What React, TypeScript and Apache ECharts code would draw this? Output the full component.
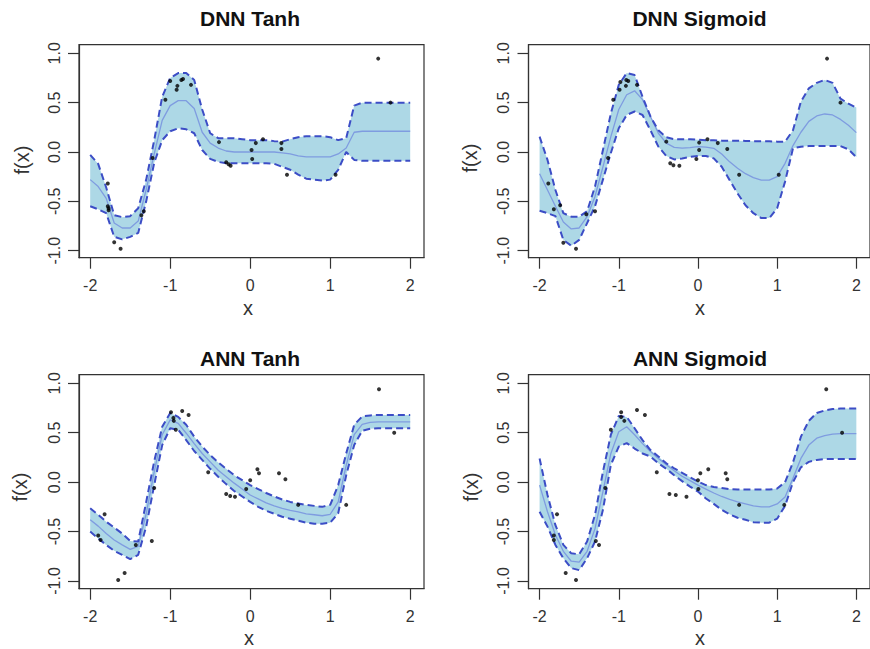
import React, { useEffect, useRef } from "react";
import * as echarts from "echarts";

// common x grid for fitted curves
const XS = [-2, -1.9, -1.8, -1.7, -1.6, -1.5, -1.4, -1.3, -1.2, -1.1, -1.0, -0.9, -0.8, -0.7, -0.6, -0.5, -0.4, -0.3, -0.2, -0.1, 0, 0.1, 0.2, 0.3, 0.4, 0.5, 0.6, 0.7, 0.8, 0.9, 1.0, 1.1, 1.2, 1.3, 1.4, 1.5, 1.6, 1.7, 1.8, 1.9, 2.0];

const X_TICKS = [-2, -1, 0, 1, 2];
const Y_TICKS = [-1, -0.5, 0, 0.5, 1];

const TITLES = ["DNN Tanh", "DNN Sigmoid", "ANN Tanh", "ANN Sigmoid"];

// DNN Tanh
const mean1 = [-0.28, -0.35, -0.47, -0.72, -0.77, -0.77, -0.70, -0.38, -0.02, 0.32, 0.47, 0.52, 0.52, 0.44, 0.20, 0.09, 0.04, 0.01, 0.0, 0.0, 0.0, 0.0, 0.0, 0.0, -0.01, -0.02, -0.04, -0.05, -0.05, -0.05, -0.05, -0.02, 0.04, 0.20, 0.21, 0.21, 0.21, 0.21, 0.21, 0.21, 0.21];
const upper1 = [-0.03, -0.12, -0.36, -0.64, -0.66, -0.65, -0.57, -0.28, 0.12, 0.56, 0.75, 0.80, 0.80, 0.73, 0.43, 0.19, 0.14, 0.14, 0.14, 0.13, 0.12, 0.12, 0.12, 0.11, 0.105, 0.13, 0.15, 0.16, 0.16, 0.16, 0.15, 0.12, 0.14, 0.47, 0.50, 0.50, 0.50, 0.50, 0.50, 0.50, 0.50];
const lower1 = [-0.55, -0.58, -0.62, -0.86, -0.885, -0.86, -0.82, -0.50, -0.11, 0.12, 0.21, 0.24, 0.23, 0.19, 0.02, -0.07, -0.10, -0.115, -0.115, -0.115, -0.115, -0.115, -0.115, -0.12, -0.15, -0.18, -0.23, -0.27, -0.28, -0.29, -0.28, -0.18, 0.0, -0.08, -0.09, -0.09, -0.09, -0.09, -0.09, -0.09, -0.09];
const points1 = [[-1.78, -0.32], [-1.78, -0.55], [-1.77, -0.57], [-1.77, -0.59], [-1.70, -0.915], [-1.62, -0.98], [-1.36, -0.64], [-1.33, -0.60], [-1.22, -0.06], [-1.06, 0.53], [-1.0, 0.72], [-0.92, 0.63], [-0.91, 0.67], [-0.86, 0.73], [-0.84, 0.74], [-0.74, 0.68], [-0.39, 0.10], [-0.30, -0.105], [-0.27, -0.125], [-0.245, -0.14], [0.017, 0.02], [0.025, -0.07], [0.07, 0.09], [0.16, 0.13], [0.39, 0.09], [0.39, 0.03], [0.46, -0.23], [1.067, -0.23], [1.6, 0.946], [1.754, 0.50]];

// DNN Sigmoid
const mean2 = [-0.22, -0.385, -0.55, -0.71, -0.78, -0.77, -0.655, -0.45, -0.15, 0.155, 0.43, 0.58, 0.62, 0.53, 0.36, 0.19, 0.09, 0.047, 0.04, 0.045, 0.054, 0.05, 0.037, -0.02, -0.10, -0.165, -0.22, -0.26, -0.285, -0.285, -0.25, -0.115, 0.065, 0.20, 0.31, 0.365, 0.385, 0.375, 0.33, 0.27, 0.196];
const upper2 = [0.155, -0.08, -0.385, -0.62, -0.655, -0.655, -0.60, -0.35, 0.02, 0.39, 0.68, 0.80, 0.78, 0.56, 0.36, 0.22, 0.15, 0.13, 0.128, 0.128, 0.125, 0.12, 0.118, 0.115, 0.115, 0.115, 0.112, 0.11, 0.11, 0.108, 0.105, 0.105, 0.22, 0.51, 0.645, 0.70, 0.73, 0.70, 0.54, 0.49, 0.45];
const lower2 = [-0.595, -0.62, -0.65, -0.89, -0.95, -0.89, -0.72, -0.55, -0.28, -0.01, 0.24, 0.375, 0.41, 0.375, 0.22, 0.054, -0.04, -0.075, -0.065, -0.05, -0.04, -0.04, -0.065, -0.15, -0.285, -0.42, -0.54, -0.62, -0.67, -0.67, -0.57, -0.30, 0.037, 0.054, 0.06, 0.06, 0.06, 0.06, 0.06, 0.027, -0.054];
const points2 = [[-1.89, -0.32], [-1.82, -0.58], [-1.74, -0.54], [-1.70, -0.92], [-1.54, -0.98], [-1.41, -0.63], [-1.30, -0.60], [-1.135, -0.06], [-1.07, 0.53], [-0.98, 0.71], [-0.99, 0.63], [-0.91, 0.67], [-0.905, 0.73], [-0.88, 0.72], [-0.77, 0.68], [-0.40, 0.105], [-0.35, -0.115], [-0.31, -0.135], [-0.235, -0.14], [-0.02, -0.07], [0.015, 0.095], [0.015, 0.02], [0.12, 0.13], [0.25, 0.09], [0.37, 0.03], [0.52, -0.23], [1.02, -0.23], [1.63, 0.946], [1.80, 0.50]];

// ANN Tanh
const mean3 = [-0.38, -0.445, -0.52, -0.585, -0.635, -0.68, -0.65, -0.32, 0.105, 0.48, 0.63, 0.595, 0.495, 0.39, 0.29, 0.205, 0.12, 0.055, -0.01, -0.07, -0.13, -0.17, -0.21, -0.24, -0.265, -0.285, -0.30, -0.32, -0.33, -0.34, -0.325, -0.20, 0.17, 0.48, 0.585, 0.605, 0.61, 0.61, 0.61, 0.61, 0.61];
const upper3 = [-0.265, -0.33, -0.40, -0.46, -0.52, -0.595, -0.60, -0.20, 0.21, 0.56, 0.70, 0.66, 0.58, 0.46, 0.36, 0.275, 0.20, 0.135, 0.07, 0.02, -0.03, -0.07, -0.11, -0.145, -0.175, -0.20, -0.215, -0.23, -0.24, -0.25, -0.23, -0.03, 0.29, 0.58, 0.665, 0.675, 0.68, 0.68, 0.68, 0.68, 0.68];
const lower3 = [-0.50, -0.57, -0.635, -0.695, -0.735, -0.78, -0.735, -0.45, -0.03, 0.375, 0.545, 0.53, 0.425, 0.315, 0.225, 0.135, 0.055, -0.02, -0.09, -0.145, -0.20, -0.25, -0.29, -0.32, -0.35, -0.37, -0.39, -0.41, -0.42, -0.42, -0.41, -0.315, 0.07, 0.375, 0.52, 0.54, 0.545, 0.545, 0.545, 0.545, 0.545];
const points3 = [[-1.82, -0.325], [-1.9, -0.54], [-1.87, -0.585], [-1.65, -0.99], [-1.57, -0.92], [-1.43, -0.636], [-1.23, -0.595], [-1.2, -0.06], [-0.99, 0.707], [-0.96, 0.65], [-0.955, 0.62], [-0.93, 0.53], [-0.85, 0.72], [-0.77, 0.68], [-0.525, 0.10], [-0.30, -0.12], [-0.25, -0.14], [-0.19, -0.147], [-0.05, -0.07], [0.0, 0.02], [0.09, 0.13], [0.11, 0.09], [0.36, 0.09], [0.44, 0.03], [0.6, -0.23], [1.2, -0.23], [1.61, 0.94], [1.8, 0.50]];

// ANN Sigmoid
const mean4 = [-0.03, -0.30, -0.535, -0.70, -0.80, -0.81, -0.70, -0.47, -0.095, 0.29, 0.51, 0.56, 0.48, 0.39, 0.31, 0.24, 0.175, 0.115, 0.06, 0.015, -0.03, -0.07, -0.11, -0.145, -0.175, -0.20, -0.22, -0.24, -0.25, -0.25, -0.22, -0.15, 0.04, 0.24, 0.375, 0.445, 0.47, 0.485, 0.49, 0.49, 0.49];
const upper4 = [0.24, -0.13, -0.435, -0.635, -0.72, -0.73, -0.60, -0.33, 0.105, 0.48, 0.67, 0.66, 0.545, 0.425, 0.325, 0.26, 0.19, 0.14, 0.095, 0.05, 0.005, -0.03, -0.05, -0.06, -0.07, -0.075, -0.075, -0.075, -0.075, -0.075, -0.065, 0.0, 0.20, 0.46, 0.62, 0.70, 0.725, 0.74, 0.745, 0.745, 0.745];
const lower4 = [-0.30, -0.45, -0.635, -0.77, -0.87, -0.89, -0.77, -0.60, -0.28, 0.175, 0.36, 0.395, 0.34, 0.29, 0.26, 0.19, 0.135, 0.07, 0.01, -0.045, -0.095, -0.165, -0.22, -0.28, -0.325, -0.36, -0.38, -0.405, -0.41, -0.41, -0.37, -0.24, 0.0, 0.15, 0.205, 0.225, 0.235, 0.235, 0.235, 0.235, 0.235];
const points4 = [[-1.78, -0.325], [-1.82, -0.54], [-1.82, -0.585], [-1.67, -0.92], [-1.54, -0.99], [-1.29, -0.595], [-1.25, -0.636], [-1.17, -0.06], [-1.10, 0.53], [-0.97, 0.707], [-0.97, 0.66], [-0.93, 0.62], [-0.77, 0.73], [-0.67, 0.68], [-0.52, 0.10], [-0.36, -0.12], [-0.28, -0.13], [-0.145, -0.147], [0.0, 0.02], [0.005, -0.07], [0.03, 0.09], [0.13, 0.13], [0.35, 0.09], [0.37, 0.03], [0.52, -0.23], [1.09, -0.23], [1.62, 0.94], [1.82, 0.50]];

const MEANS = [mean1, mean2, mean3, mean4];
const UPPERS = [upper1, upper2, upper3, upper4];
const LOWERS = [lower1, lower2, lower3, lower4];
const POINTS = [points1, points2, points3, points4];

// layout (pixels)
const GRID_LEFT = [79, 528.5, 79, 528.5];
const GRID_TOP = [44.7, 44.7, 374.7, 374.7];
const GRID_W = 345;
const GRID_H = [213, 213, 214, 214];
const X_MIN = -2.14;
const X_MAX = X_MIN + 345 / 80;
const Y_MAX = 1.087;
const Y_MIN = [-1.071, -1.071, -1.078, -1.078];
const TITLE_POS = [[250, 18.5], [699.5, 18.5], [250, 358], [700, 358]];
const YLAB_POS = [[21.5, 160], [470, 158], [20, 487], [471, 487]];
const XLAB_POS = [[248, 308], [700, 308], [249, 638], [700, 638]];

const FONT = "'Liberation Sans', Arial, sans-serif";
const AX = "#333333";
const BAND = "#ADD8E6";
const DASH = "#3c4dc6";
const MEANC = "#7f9ce0";

export default function App() {
  const ref = useRef<HTMLDivElement>(null);
  useEffect(() => {
    document.body.style.margin = "0";
    if (!ref.current) return;
    const chart = echarts.init(ref.current, null, { renderer: "svg" });

    const grids: any[] = [];
    const xAxes: any[] = [];
    const yAxes: any[] = [];
    const series: any[] = [];
    const graphics: any[] = [];

    for (let i = 0; i < 4; i++) {
      grids.push({
        left: GRID_LEFT[i],
        top: GRID_TOP[i],
        width: GRID_W,
        height: GRID_H[i],
        show: true,
        borderColor: AX,
        borderWidth: 1.2,
        backgroundColor: "transparent",
        containLabel: false,
      });
      xAxes.push({
        type: "value",
        gridIndex: i,
        min: X_MIN,
        max: X_MAX,
        axisLine: { show: true, onZero: false, lineStyle: { color: AX, width: 1.2 } },
        axisTick: { show: true, length: 11, customValues: X_TICKS, lineStyle: { color: AX, width: 1.2 } },
        axisLabel: {
          customValues: X_TICKS,
          fontSize: 16,
          color: AX,
          fontFamily: FONT,
          margin: 20,
          formatter: (v: number) => String(v),
        },
        splitLine: { show: false },
      });
      yAxes.push({
        type: "value",
        gridIndex: i,
        min: Y_MIN[i],
        max: Y_MAX,
        axisLine: { show: true, onZero: false, lineStyle: { color: AX, width: 1.2 } },
        axisTick: { show: true, length: 11, customValues: Y_TICKS, lineStyle: { color: AX, width: 1.2 } },
        axisLabel: {
          customValues: Y_TICKS,
          fontSize: 16,
          color: AX,
          fontFamily: FONT,
          rotate: 90,
          margin: 17,
          formatter: (v: number) => v.toFixed(1),
        },
        splitLine: { show: false },
      });

      const upper = UPPERS[i];
      const lower = LOWERS[i];
      series.push({
        type: "custom",
        xAxisIndex: i,
        yAxisIndex: i,
        z: 1,
        silent: true,
        data: XS.map((x, k) => [x, lower[k], upper[k]]),
        encode: { x: 0, y: [1, 2] },
        renderItem: (params: any, api: any) => {
          if (params.dataIndex !== 0) return null;
          const top = XS.map((x, k) => api.coord([x, upper[k]]));
          const bot = XS.map((x, k) => api.coord([x, lower[k]])).reverse();
          return {
            type: "polygon",
            shape: { points: top.concat(bot) },
            style: { fill: BAND, stroke: null },
          };
        },
      });
      series.push({
        type: "line",
        xAxisIndex: i,
        yAxisIndex: i,
        z: 2,
        showSymbol: false,
        silent: true,
        data: XS.map((x, k) => [x, MEANS[i][k]]),
        lineStyle: { color: MEANC, width: 1.3 },
      });
      series.push({
        type: "line",
        xAxisIndex: i,
        yAxisIndex: i,
        z: 3,
        showSymbol: false,
        silent: true,
        data: XS.map((x, k) => [x, upper[k]]),
        lineStyle: { color: DASH, width: 2, type: [7, 4] },
      });
      series.push({
        type: "line",
        xAxisIndex: i,
        yAxisIndex: i,
        z: 3,
        showSymbol: false,
        silent: true,
        data: XS.map((x, k) => [x, lower[k]]),
        lineStyle: { color: DASH, width: 2, type: [7, 4] },
      });
      series.push({
        type: "scatter",
        xAxisIndex: i,
        yAxisIndex: i,
        z: 5,
        silent: true,
        symbolSize: 4,
        itemStyle: { color: "#000" },
        data: POINTS[i],
      });

      graphics.push({
        type: "text",
        x: TITLE_POS[i][0],
        y: TITLE_POS[i][1],
        style: {
          text: TITLES[i],
          font: `bold 21px ${FONT}`,
          fill: "#111",
          textAlign: "center",
          textVerticalAlign: "middle",
        },
      });
      graphics.push({
        type: "text",
        x: YLAB_POS[i][0],
        y: YLAB_POS[i][1],
        rotation: Math.PI / 2,
        style: {
          text: "f(x)",
          font: `20px ${FONT}`,
          fill: AX,
          textAlign: "center",
          textVerticalAlign: "middle",
        },
      });
      graphics.push({
        type: "text",
        x: XLAB_POS[i][0],
        y: XLAB_POS[i][1],
        style: {
          text: "x",
          font: `20px ${FONT}`,
          fill: AX,
          textAlign: "center",
          textVerticalAlign: "middle",
        },
      });
    }

    chart.setOption({
      animation: false,
      backgroundColor: "#ffffff",
      grid: grids,
      xAxis: xAxes,
      yAxis: yAxes,
      series,
      graphic: graphics,
    });
    return () => chart.dispose();
  }, []);
  return <div ref={ref} style={{ width: 870, height: 649, position: "absolute", left: 0, top: 0 }} />;
}
